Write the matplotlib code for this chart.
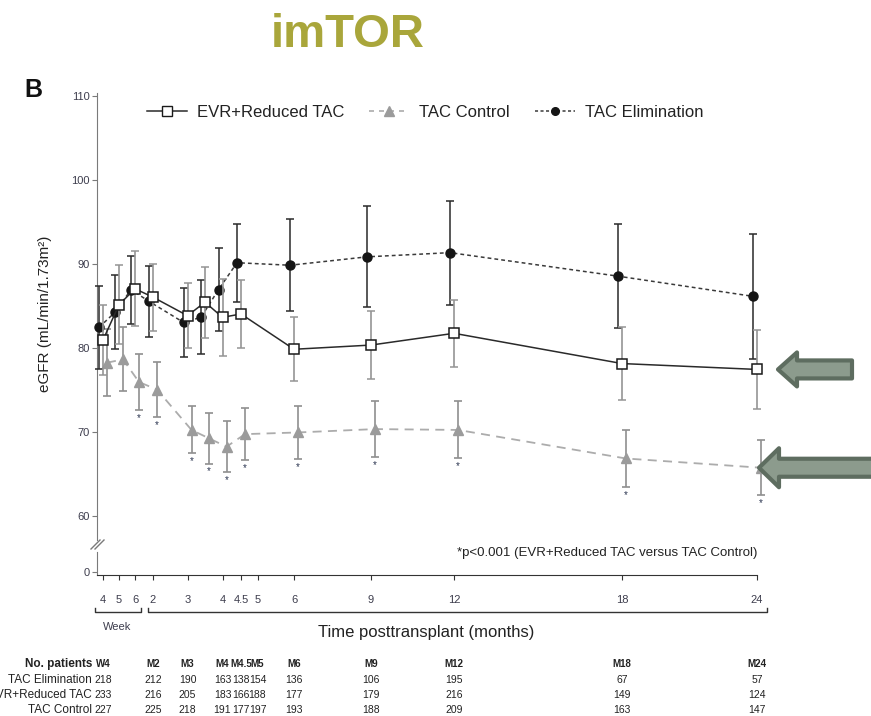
import numpy as np
import matplotlib
matplotlib.use('Agg')
import matplotlib.pyplot as plt
from matplotlib.lines import Line2D
from matplotlib.patches import FancyArrow
from matplotlib.ticker import NullLocator
from matplotlib.transforms import ScaledTranslation, IdentityTransform, blended_transform_factory

W, H = 871, 716
plt.rcParams['font.family'] = ['Liberation Sans', 'DejaVu Sans']
NARROW = ['Liberation Sans Narrow', 'Liberation Sans', 'DejaVu Sans']

WEEK = 12 / 52  # months per week

# eGFR by visit (mean and error bar half-width)
visits = ['W4', 'W5', 'W6', 'M2', 'M3', 'M3.5', 'M4', 'M4.5', 'M6', 'M9', 'M12', 'M18', 'M24']
months = [4 * WEEK, 5 * WEEK, 6 * WEEK, 2, 3, 3.5, 4, 4.5, 6, 9, 12, 18, 24]

evr_mean = [81.0, 85.2, 87.1, 86.1, 83.9, 85.5, 83.7, 84.1, 79.9, 80.4, 81.8, 78.2, 77.5]
evr_err = [4.2, 4.7, 4.45, 4.0, 3.9, 4.25, 4.6, 4.0, 3.8, 4.0, 4.0, 4.35, 4.65]

ctrl_mean = [78.3, 78.7, 76.0, 75.1, 70.3, 69.3, 68.3, 69.8, 70.0, 70.4, 70.3, 66.9, 65.8]
ctrl_err = [4.0, 3.8, 3.3, 3.3, 2.8, 3.0, 3.05, 3.1, 3.2, 3.3, 3.4, 3.45, 3.3]
ctrl_signif = [False, False, True, True, True, True, True, True, True, True, True, True, True]

elim_mean = [82.5, 84.3, 87.0, 85.6, 83.1, 83.7, 87.0, 90.2, 89.9, 90.9, 91.4, 88.6, 86.2]
elim_err = [4.9, 4.4, 4.05, 4.2, 4.1, 4.4, 4.9, 4.65, 5.5, 6.0, 6.2, 6.2, 7.4]

tick_months = [4 * WEEK, 5 * WEEK, 6 * WEEK, 2, 3, 4, 4.5, 5, 6, 9, 12, 18, 24]
tick_labels = ['4', '5', '6', '2', '3', '4', '4.5', '5', '6', '9', '12', '18', '24']

# patients at each visit
table_cols = ['W4', 'M2', 'M3', 'M4', 'M4.5', 'M5', 'M6', 'M9', 'M12', 'M18', 'M24']
table_months = [4 * WEEK, 2, 3, 4, 4.5, 5, 6, 9, 12, 18, 24]
n_elim = [218, 212, 190, 163, 138, 154, 136, 106, 195, 67, 57]
n_evr = [233, 216, 205, 183, 166, 188, 177, 179, 216, 149, 124]
n_ctrl = [227, 225, 218, 191, 177, 197, 193, 188, 209, 163, 147]

# the time axis is stretched unevenly (weeks wide, later months compressed)
axis_t = [0, 4 * WEEK, 5 * WEEK, 6 * WEEK, 2, 3, 4, 4.5, 5, 6, 9, 12, 18, 24, 30]
axis_u = [-58, 6, 22, 38, 56, 90.5, 125.5, 144, 160.5, 197, 274, 357, 525, 660, 795]


def to_axis(t):
    return np.interp(t, axis_t, axis_u)


def from_axis(u):
    return np.interp(u, axis_u, axis_t)


def fx(x):
    return x / W


def fy(y):
    return 1 - y / H


SPINE = '#7a7a7a'
TICK = '#3d3d4d'
TEXT = '#222222'

fig = plt.figure(figsize=(W / 100, H / 100), dpi=100)
ax = fig.add_axes([fx(97), fy(540), 660 / W, 447 / H])
axb = fig.add_axes([fx(97), fy(575), 660 / W, 23 / H])

for a in (ax, axb):
    a.set_xscale('function', functions=(to_axis, from_axis))
    a.set_xlim(float(from_axis(0)), 24)
    a.set_facecolor('none')
    a.spines[['top', 'right']].set_visible(False)
    a.spines['left'].set_color(SPINE)
    a.xaxis.set_minor_locator(NullLocator())
    a.yaxis.set_minor_locator(NullLocator())
    a.tick_params(axis='y', length=3.6, width=0.8, color=SPINE, labelsize=8,
                  labelcolor=TICK, pad=1.5)

ax.spines['bottom'].set_visible(False)
ax.set_ylim(57.2, 110.4)
ax.set_yticks(range(60, 111, 10))
ax.tick_params(axis='x', bottom=False, labelbottom=False)

axb.set_ylim(-0.6, 4)
axb.set_yticks([0])
axb.spines['bottom'].set_color('#333333')
axb.set_xticks(tick_months, tick_labels)
axb.tick_params(axis='x', length=3.6, width=0.8, color='#333333', labelsize=8,
                labelcolor=TICK, pad=10.5)


def dodge(px):
    return ax.transData + ScaledTranslation(px / 100, 0, fig.dpi_scale_trans)


ax.errorbar(months, ctrl_mean, yerr=ctrl_err, transform=dodge(4), clip_on=False,
            color='#acacac', lw=1.3, linestyle=(0, (5, 3.5)),
            marker='^', ms=7.5, mfc='#9b9b9b', mec='#9b9b9b',
            ecolor='#8f8f8f', elinewidth=1.2, capsize=3, capthick=1.2, zorder=2)
ax.errorbar(months, elim_mean, yerr=elim_err, transform=dodge(-4), clip_on=False,
            color='#3a3a3a', lw=1.1, linestyle=(0, (2.5, 2)),
            marker='o', ms=6.5, mfc='#151515', mec='#151515',
            ecolor='#2a2a2a', elinewidth=1.1, capsize=3, capthick=1.1, zorder=3)
ax.errorbar(months, evr_mean, yerr=evr_err, clip_on=False,
            color='#2a2a2a', lw=1.1, linestyle='-',
            marker='s', ms=7, mfc='white', mec='#1a1a1a', mew=1.1,
            ecolor='#959595', elinewidth=1.2, capsize=3, capthick=1.2, zorder=4)

for t, m, e, s in zip(months, ctrl_mean, ctrl_err, ctrl_signif):
    if s:
        ax.annotate('*', xy=(t, m - e), xytext=(4, -3), textcoords='offset pixels',
                    ha='center', va='top', fontsize=7, color='#2b3550',
                    annotation_clip=False)

handles = [
    Line2D([], [], color='#2a2a2a', lw=1.1, marker='s', ms=6.5, mfc='white', mec='#1a1a1a'),
    Line2D([], [], color='#acacac', lw=1.2, linestyle=(0, (3, 3)), marker='^', ms=6.5,
           mfc='#9b9b9b', mec='#9b9b9b'),
    Line2D([], [], color='#3a3a3a', lw=1.1, linestyle=(0, (2, 1.6)), marker='o', ms=5.5,
           mfc='#151515', mec='#151515'),
]
ax.legend(handles, ['EVR+Reduced TAC', 'TAC Control', 'TAC Elimination'],
          loc='upper center', bbox_to_anchor=(0.497, 1.0), ncol=3, frameon=False,
          fontsize=12, handlelength=2.4, handletextpad=0.6, columnspacing=1.5,
          borderaxespad=0.3, labelcolor=TEXT)

# broken y axis marks
for dx in (0, 4):
    fig.add_artist(Line2D([fx(91 + dx), fx(100 + dx)], [fy(549), fy(540)],
                          transform=fig.transFigure, color=SPINE, lw=1))


def bracket(x0, x1, y=612, h=4):
    xs = [x0, x0, x1, x1]
    ys = [y - h, y, y, y - h]
    fig.add_artist(Line2D([fx(v) for v in xs], [fy(v) for v in ys],
                          transform=fig.transFigure, color='#333333', lw=1))


bracket(95, 141)
bracket(148, 767)

fig.text(fx(117), fy(630), 'Week', fontsize=8, color=TICK, ha='center', va='baseline')
fig.text(fx(426), fy(637), 'Time posttransplant (months)', fontsize=12, color=TEXT,
         ha='center', va='baseline')
fig.text(fx(45), fy(314), 'eGFR (mL/min/1.73m²)', fontsize=11, color=TEXT,
         rotation=90, ha='center', va='center')
fig.text(fx(757), fy(556), '*p<0.001 (EVR+Reduced TAC versus TAC Control)',
         fontsize=9.5, color=TEXT, ha='right', va='baseline')

fig.text(fx(348), fy(47), 'imTOR', fontsize=34, fontweight='bold', color='#a9a63b',
         ha='center', va='baseline')
fig.text(fx(24), fy(97), 'B', fontsize=18, fontweight='bold', color='#111111',
         ha='left', va='baseline')

# patient counts table
tbl = blended_transform_factory(axb.transData, fig.transFigure)
rows = [
    ('No. patients', table_cols, 'bold', 667),
    ('TAC Elimination', n_elim, 'normal', 683),
    ('EVR+Reduced TAC', n_evr, 'normal', 698),
    ('TAC Control', n_ctrl, 'normal', 713),
]
for label, values, weight, y in rows:
    fig.text(fx(92), fy(y), label, fontsize=8.5, fontweight=weight, color=TEXT,
             family=NARROW if weight == 'bold' else None,
             ha='right', va='baseline')
    size = 7.0 if weight == 'bold' else 7.5
    for t, v in zip(table_months, values):
        fig.text(t, fy(y), str(v), transform=tbl, fontsize=size, fontweight=weight,
                 family=NARROW, color=TEXT, ha='center', va='baseline')


def block_arrow(tip_x, value, tail_x, body, head_w, head_l):
    y = ax.transData.transform((24, value))[1]
    fig.add_artist(FancyArrow(tail_x, y, tip_x - tail_x, 0, width=body,
                              head_width=head_w, head_length=head_l,
                              length_includes_head=True, transform=IdentityTransform(),
                              fc='#8c9b8d', ec='#5e6d60', lw=3, joinstyle='round'))


block_arrow(778, evr_mean[-1], 852, 18, 34, 19)
block_arrow(759, ctrl_mean[-1], 890, 18, 39, 20)

fig.savefig('out.png', dpi=100)
